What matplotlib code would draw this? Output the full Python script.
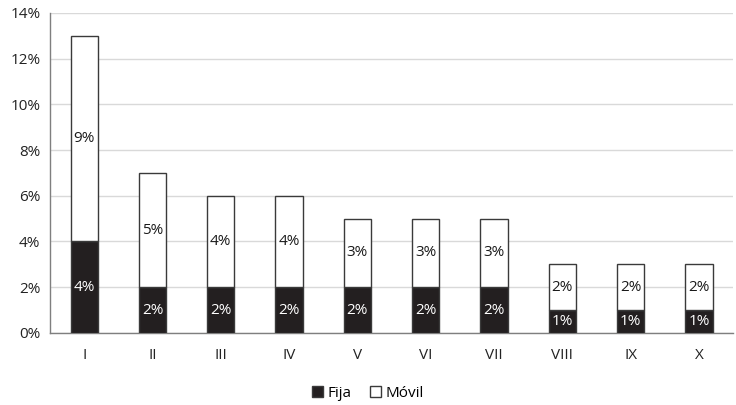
import matplotlib
matplotlib.use("Agg")
import matplotlib.pyplot as plt
import numpy as np

categories = ["I", "II", "III", "IV", "V", "VI", "VII", "VIII", "IX", "X"]
fija = [4, 2, 2, 2, 2, 2, 2, 1, 1, 1]
movil = [9, 5, 4, 4, 3, 3, 3, 2, 2, 2]
yticks = [0, 2, 4, 6, 8, 10, 12, 14]

plt.rcParams['font.family'] = ['Open Sans', 'DejaVu Sans']

fig = plt.figure(figsize=(7.36, 4.05), dpi=100)
ax = fig.add_axes([0.068, 0.178, 0.928, 0.79])

x = np.arange(len(categories))
w = 0.4
dark = "#231f20"
b1 = ax.bar(x, fija, w, color=dark, edgecolor="#3a3a3a", linewidth=1.0, label="Fija", zorder=3)
b2 = ax.bar(x, movil, w, bottom=fija, color="white", edgecolor="#3a3a3a", linewidth=1.0, label="Móvil", zorder=3)

for xi, f, m in zip(x, fija, movil):
    ax.text(xi, f / 2, f"{f}%", ha="center", va="center", color="white", fontsize=11, zorder=4)
    ax.text(xi, f + m / 2, f"{m}%", ha="center", va="center", color="#1a1a1a", fontsize=11, zorder=4)

ax.set_xlim(-0.5, len(categories) - 0.5)
ax.set_ylim(0, 14)
ax.set_yticks(yticks)
ax.set_yticklabels([f"{t}%" for t in yticks], fontsize=11, color="#222222")
ax.set_xticks(x)
ax.set_xticklabels(categories, fontsize=11, color="#222222")
ax.tick_params(axis="x", length=0, pad=11)
ax.tick_params(axis="y", length=0, pad=7)
ax.grid(axis="y", color="#d9d9d9", linewidth=1.0, zorder=0)
ax.set_axisbelow(True)
for s in ["top", "right"]:
    ax.spines[s].set_visible(False)
for s in ["left", "bottom"]:
    ax.spines[s].set_color("#7f7f7f")
    ax.spines[s].set_linewidth(1.0)

leg = fig.legend(handles=[b1, b2], labels=["Fija", "Móvil"], loc="center", bbox_to_anchor=(0.5, 0.028),
                 ncol=2, frameon=False, fontsize=11, handlelength=0.7, handleheight=0.7,
                 handletextpad=0.3, columnspacing=1.2)

fig.savefig("out.png", dpi=100)
